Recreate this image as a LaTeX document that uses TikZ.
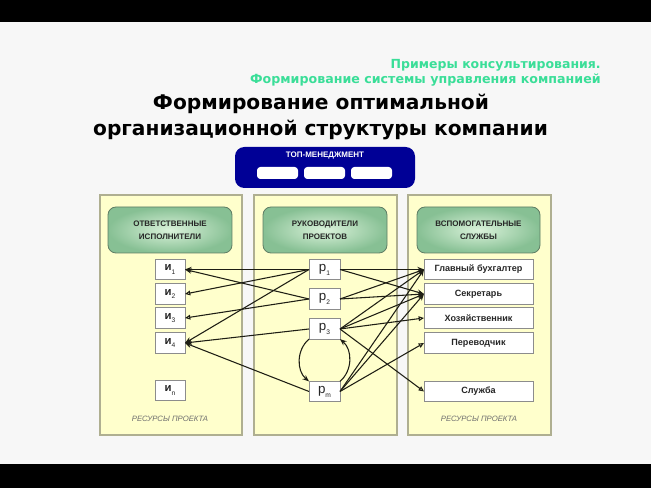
\documentclass[tikz,border=0pt]{standalone}
\usepackage{fontspec}
\setmainfont{Liberation Sans}
\newfontfamily\titlefont{DejaVu Sans}
\usetikzlibrary{arrows.meta,fit,shadings}
\definecolor{bg}{RGB}{247,247,247}
\definecolor{panelfill}{RGB}{255,255,204}
\definecolor{paneldraw}{RGB}{175,175,145}
\definecolor{navy}{RGB}{0,0,150}
\definecolor{mint}{RGB}{58,222,152}
\definecolor{hdrin}{RGB}{218,242,218}
\definecolor{hdrout}{RGB}{135,192,148}
\definecolor{hdrdraw}{RGB}{95,125,100}
\definecolor{boxdraw}{RGB}{140,140,140}
\definecolor{linec}{RGB}{30,30,20}
\definecolor{resgrey}{RGB}{110,110,110}
\newcommand{\lowsub}[1]{\raisebox{-0.55ex}{\fontsize{5}{5}\selectfont\mdseries #1}}
\tikzset{
  panel/.style={draw=paneldraw, fill=panelfill, line width=0.9pt, inner sep=0pt},
  hdr/.style={draw=hdrdraw, rounded corners=6pt, inner color=hdrin, outer color=hdrout,
    inner sep=0pt, line width=0.6pt},
  hdrtext/.style={align=center, text=black!85, font=\bfseries\fontsize{6}{9.5}\selectfont},
  wbox/.style={draw=boxdraw, fill=white, inner sep=0pt, outer sep=0pt, line width=0.6pt,
    minimum height=15.2pt},
  ibox/.style={wbox, minimum width=22.5pt, font=\bfseries\fontsize{8.5}{9}\selectfont, text=black!85},
  pbox/.style={wbox, minimum width=23.25pt, font=\fontsize{10}{10}\selectfont, text=black!85},
  sbox/.style={wbox, minimum width=81.75pt, font=\bfseries\fontsize{6.8}{8}\selectfont, text=black!85},
  res/.style={font=\itshape\fontsize{5.8}{7}\selectfont, text=resgrey},
  arr/.style={draw=linec, line width=0.8pt, -{Stealth[length=5pt,width=4pt]}},
  arro/.style={draw=linec, line width=0.8pt, -{Triangle[open,length=4pt,width=3.5pt]}},
}
\begin{document}
\begin{tikzpicture}[x=0.75pt,y=-0.75pt]
\useasboundingbox (0,0) rectangle (651,488);
\fill[bg] (0,0) rectangle (651,488);
\fill[black] (0,0) rectangle (651,22);
\fill[black] (0,464) rectangle (651,488);

% titles
\node[anchor=base east, text=mint, inner sep=0] (g1) at (601,69)
  {\resizebox{157.5pt}{!}{\titlefont\bfseries Примеры консультирования.}};
\node[anchor=base east, text=mint, inner sep=0] (g2) at (601,84)
  {\resizebox{263pt}{!}{\titlefont\bfseries Формирование системы управления компанией}};
\node[anchor=base, inner sep=0] (t1) at (321,110)
  {\resizebox{252pt}{!}{\titlefont\bfseries Формирование оптимальной}};
\node[anchor=base, inner sep=0] (t2) at (320.5,136)
  {\resizebox{341pt}{!}{\titlefont\bfseries организационной структуры компании}};

% top management
\node[fit={(235,147)(415,188)}, fill=navy, rounded corners=7pt, inner sep=0pt] (top) {};
\node[text=white, font=\bfseries\fontsize{6}{7}\selectfont, inner sep=0] (toplbl) at (325,155.5) {ТОП-МЕНЕДЖМЕНТ};
\node[fit={(257,167)(298,179)}, fill=white, rounded corners=2.5pt, inner sep=0pt] (tm1) {};
\node[fit={(304,167)(345,179)}, fill=white, rounded corners=2.5pt, inner sep=0pt] (tm2) {};
\node[fit={(351,167)(392,179)}, fill=white, rounded corners=2.5pt, inner sep=0pt] (tm3) {};

% panels
\node[panel, fit={(100,195)(242,435)}] (pl) {};
\node[panel, fit={(254,195)(397,435)}] (pc) {};
\node[panel, fit={(408,195)(551,435)}] (pr) {};

% headers
\node[hdr, fit={(108,207)(232,253)}] (hl) {};
\node[hdrtext] (hlt) at (hl.center) {ОТВЕТСТВЕННЫЕ\\ИСПОЛНИТЕЛИ};
\node[hdr, fit={(263,207)(387,253)}] (hc) {};
\node[hdrtext] (hct) at (hc.center) {РУКОВОДИТЕЛИ\\ПРОЕКТОВ};
\node[hdr, fit={(417,207)(540,253)}] (hr) {};
\node[hdrtext] (hrt) at (hr.center) {ВСПОМОГАТЕЛЬНЫЕ\\СЛУЖБЫ};

% left boxes
\node[ibox] (i1) at (170,269.5) {и\lowsub{1}};
\node[ibox] (i2) at (170,294) {и\lowsub{2}};
\node[ibox] (i3) at (170,318) {и\lowsub{3}};
\node[ibox] (i4) at (170,343) {и\lowsub{4}};
\node[ibox] (in) at (170,390.5) {и\lowsub{n}};

% centre boxes
\node[pbox] (p1) at (324.5,269.5) {р\lowsub{1}};
\node[pbox] (p2) at (324.5,299) {р\lowsub{2}};
\node[pbox] (p3) at (324.5,329) {р\lowsub{3}};
\node[pbox] (pm) at (324.5,391.5) {р\lowsub{m}};

% right boxes
\node[sbox] (s1) at (478.5,269.5) {Главный бухгалтер};
\node[sbox] (s2) at (478.5,294) {Секретарь};
\node[sbox] (s3) at (478.5,318) {Хозяйственник};
\node[sbox] (s4) at (478.5,343) {Переводчик};
\node[sbox] (s5) at (478.5,391.5) {Служба};

% resources labels
\node[res] (rl) at (170,419) {РЕСУРСЫ ПРОЕКТА};
\node[res] (rr) at (479,419) {РЕСУРСЫ ПРОЕКТА};

% connectors to the left
\draw[arr] (p1.west) -- (i1.east);
\draw[arro] (p1.west) -- (i2.east);
\draw[arr] (p1.west) -- (i4.east);
\draw[arr] (p2.west) -- (i1.east);
\draw[arro] (p2.west) -- (i3.east);
\draw[arr] (p3.west) -- (i4.east);
\draw[arr] (pm.west) -- (i4.east);

% connectors to the right
\draw[arr] (p1.east) -- (s1.west);
\draw[arr] (p1.east) -- (s2.west);
\draw[arr] (p2.east) -- (s1.west);
\draw[arr] (p2.east) -- (s2.west);
\draw[arr] (p3.east) -- (s1.west);
\draw[arr] (p3.east) -- (s2.west);
\draw[arro] (p3.east) -- (s3.west);
\draw[arro] (p3.east) -- (s5.west);
\draw[arr] (pm.east) -- (s1.west);
\draw[arr] (pm.east) -- (s2.west);
\draw[arro] (pm.east) -- (s4.west);

% curved connectors
\draw[arr] (p3.south west) to[bend right=50] (pm.north west);
\draw[arr] (pm.north east) to[bend right=50] (p3.south east);
\end{tikzpicture}
\end{document}
